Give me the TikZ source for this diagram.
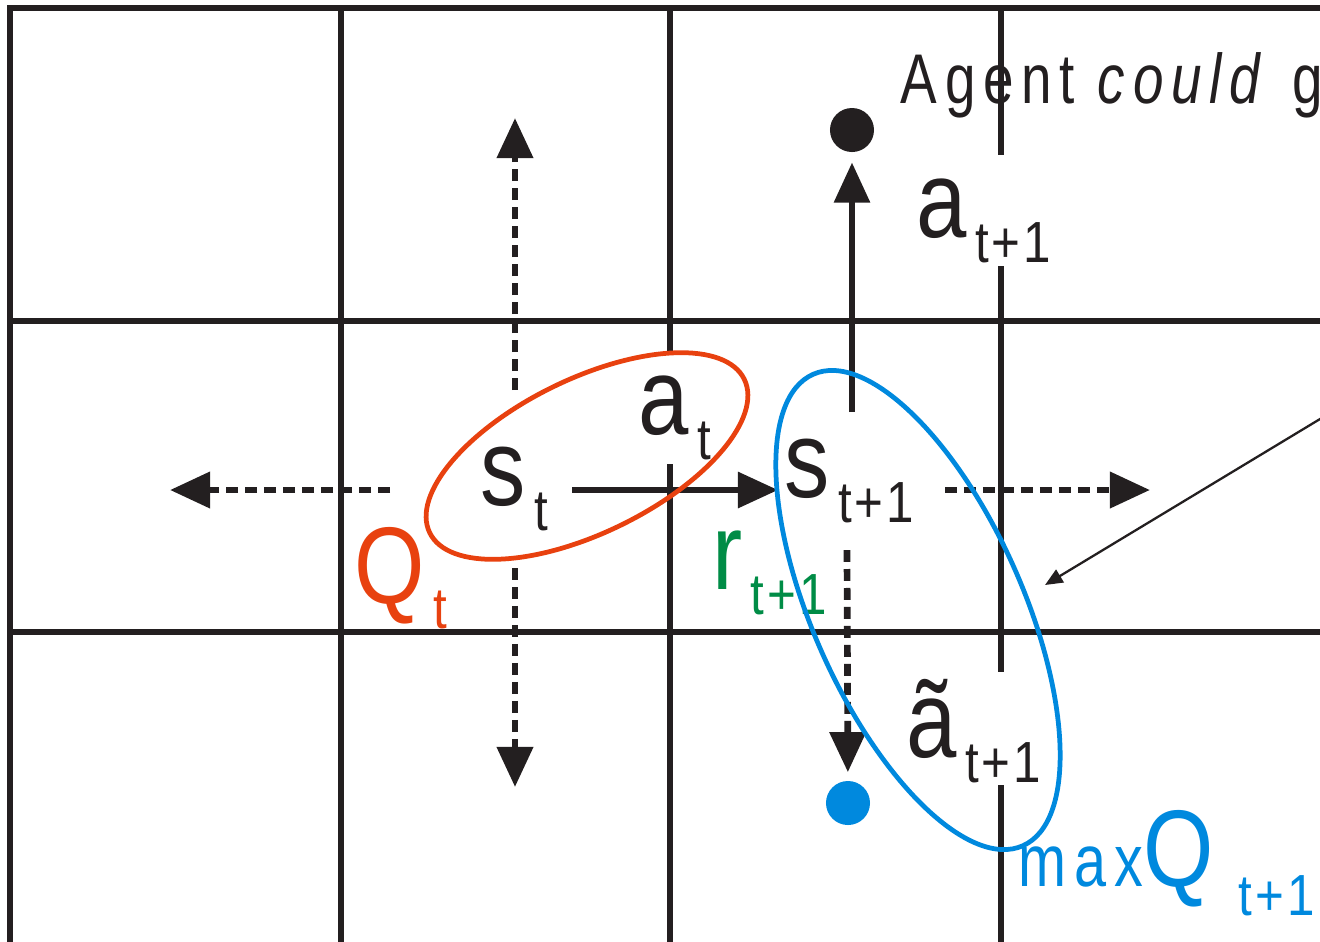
\documentclass[tikz,border=0pt]{standalone}
\usepackage{fontspec}
\setmainfont{Liberation Sans}[FakeStretch=0.83]
\newfontfamily\subfont[FakeStretch=0.85,LetterSpace=5]{Liberation Sans}
\newfontfamily\spacedfont[FakeStretch=0.78,LetterSpace=11]{Liberation Sans}
\usepackage{xcolor}
\usetikzlibrary{arrows.meta,positioning,calc}

\definecolor{ink}{RGB}{35,31,32}
\definecolor{qred}{RGB}{232,65,15}
\definecolor{qblue}{RGB}{0,137,222}
\definecolor{rgreen}{RGB}{0,140,70}

% symbol with a lowered subscript
\newcommand{\varsub}[3][2.3pt]{{\fontsize{31pt}{31pt}\selectfont #2}\hspace{#1}\raisebox{-7.3pt}{\subfont\fontsize{16.5pt}{16.5pt}\selectfont #3}}

\begin{document}
\begin{tikzpicture}[
  x=0.01cm, y=-0.01cm,
  gridline/.style={draw=ink, line width=1.55pt},
  lbl/.style={inner sep=0pt, anchor=base west, text=ink},
  move/.style={draw=ink, line width=1.65pt, -{Triangle[length=11.4pt,width=10pt]}},
  maybe/.style={draw=ink, line width=1.9pt, dash pattern=on 3.4pt off 2pt, -{Triangle[length=11.4pt,width=10pt]}},
  pointer/.style={draw=ink, line width=0.65pt, -{Triangle[length=5pt,width=4.2pt]}},
  dot/.style={circle, fill=ink, inner sep=0pt, minimum size=0.44cm},
  ring/.style={line width=1.35pt}
]
  \clip (0,0) rectangle (1320,941);

  % grid
  \foreach \y in {8,321,632}
    \draw[gridline] (7.5,\y) -- (1330,\y);
  \foreach \x in {10,341}
    \draw[gridline] (\x,5.5) -- (\x,950);
  \draw[gridline] (670,5.5) -- (670,353) (670,464) -- (670,950);
  \draw[gridline] (1001,5.5) -- (1001,155) (1001,266) -- (1001,672) (1001,785) -- (1001,950);

  % labels
  \node[lbl] (st) at (480,505) {\varsub{s}{t}};
  \node[lbl] (at) at (638,434) {\varsub{a}{t}};
  \node[lbl] (stt) at (784,497) {\varsub{s}{t+1}};
  \node[lbl] (att) at (916,237) {\varsub{a}{t+1}};
  \node[lbl] (atil) at (906,757) {\varsub{ã}{t+1}};
  \node[lbl, text=qred] (qt) at (354,603) {\varsub{Q}{t}};
  \node[lbl, text=rgreen] (rt) at (712,589) {\varsub{r}{t+1}};
  \node[lbl, text=qblue] (maxq) at (1018,886) {{\spacedfont\fontsize{21pt}{21pt}\selectfont max}\varsub[7pt]{Q}{\raisebox{-1.2pt}{t+1}}};
  \node[lbl] (agent) at (900,103) {\spacedfont\fontsize{20pt}{20pt}\selectfont Agent \textit{could} g};

  % states reached
  \node[dot] (goal) at (852,130) {};
  \node[dot, fill=qblue] (greedy) at (848,803) {};

  % arrow ends
  \coordinate (stE) at (572,490);
  \coordinate (sttW) at (778,490);
  \coordinate (sttN) at (852,412);
  \coordinate (sttS) at (847,550);
  \coordinate (sttR) at (945,490);
  \coordinate (sttRtip) at (1150,490);
  \coordinate (stUp) at (515,390);
  \coordinate (stUptip) at (515,118);
  \coordinate (stDown) at (515,568);
  \coordinate (stDowntip) at (515,787);
  \coordinate (stLeft) at (390,490);
  \coordinate (stLefttip) at (170,490);
  \coordinate (note) at (1325,416);
  \coordinate (ringtip) at (1045,585);

  \draw[move] (stE) -- (sttW);
  \draw[move, shorten >=2.8pt] (sttN) -- (goal);
  \draw[maybe] (stUp) -- (stUptip);
  \draw[maybe] (stDown) -- (stDowntip);
  \draw[maybe] (stLeft) -- (stLefttip);
  \draw[maybe] (sttR) -- (sttRtip);
  \draw[maybe, shorten >=2.3pt] (sttS) -- (greedy);
  \draw[pointer] (note) -- (ringtip);

  % value rings
  \draw[qred, ring, rotate around={26:(587,456)}] (587,456) ellipse [x radius=175, y radius=77];
  \draw[qblue, ring, rotate around={24:(918,610)}] (918,610) ellipse [x radius=105, y radius=258];
\end{tikzpicture}
\end{document}
